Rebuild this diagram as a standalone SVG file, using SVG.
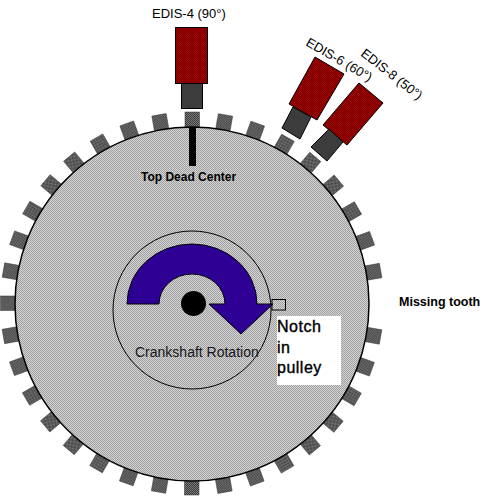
<svg xmlns="http://www.w3.org/2000/svg" width="500" height="497" viewBox="0 0 500 497">
<style>
text{font-family:"Liberation Sans",Arial,sans-serif;fill:#000}
.t{font-size:13px}
.c{font-size:14px;fill:#1a1420}
.b{font-size:12px;font-weight:bold}
.m{font-size:12.500px;font-weight:bold}
.n{font-size:16px;letter-spacing:.5px;stroke:#000;stroke-width:.4}
.tooth{fill:url(#pt);stroke:#333;stroke-width:.5}
.red{fill:url(#pr);stroke:#000;stroke-width:1}
.dark{fill:#3c3c3c;stroke:#000;stroke-width:1}
</style>
<defs>
<pattern id="pd" width="2" height="2" patternUnits="userSpaceOnUse"><rect width="2" height="2" fill="#d4d4d4"/><rect width="1" height="1" fill="#a0a0a0"/><rect x="1" y="1" width="1" height="1" fill="#a0a0a0"/></pattern>
<pattern id="pt" width="2" height="2" patternUnits="userSpaceOnUse"><rect width="2" height="2" fill="#787878"/><rect width="1" height="1" fill="#3e3e3e"/><rect x="1" y="1" width="1" height="1" fill="#3e3e3e"/></pattern>
<pattern id="pr" width="2" height="2" patternUnits="userSpaceOnUse"><rect width="2" height="2" fill="#a40000"/><rect width="1" height="1" fill="#740000"/><rect x="1" y="1" width="1" height="1" fill="#740000"/></pattern>
<pattern id="pb" width="2" height="2" patternUnits="userSpaceOnUse"><rect width="2" height="2" fill="#340090"/><rect width="1" height="1" fill="#1c00a0"/></pattern>
</defs>
<rect width="500" height="497" fill="#fff"/>
<g id="teeth">
<rect id="t0" class="tooth" x="185" y="112" width="14.500" height="15"/>
<use href="#t0" transform="rotate(10 192 303.500)"/><use href="#t0" transform="rotate(20 192 303.500)"/><use href="#t0" transform="rotate(30 192 303.500)"/><use href="#t0" transform="rotate(40 192 303.500)"/><use href="#t0" transform="rotate(50 192 303.500)"/><use href="#t0" transform="rotate(60 192 303.500)"/><use href="#t0" transform="rotate(70 192 303.500)"/><use href="#t0" transform="rotate(80 192 303.500)"/><use href="#t0" transform="rotate(100 192 303.500)"/><use href="#t0" transform="rotate(110 192 303.500)"/><use href="#t0" transform="rotate(120 192 303.500)"/><use href="#t0" transform="rotate(130 192 303.500)"/><use href="#t0" transform="rotate(140 192 303.500)"/><use href="#t0" transform="rotate(150 192 303.500)"/><use href="#t0" transform="rotate(160 192 303.500)"/><use href="#t0" transform="rotate(170 192 303.500)"/><use href="#t0" transform="rotate(180 192 303.500)"/><use href="#t0" transform="rotate(190 192 303.500)"/><use href="#t0" transform="rotate(200 192 303.500)"/><use href="#t0" transform="rotate(210 192 303.500)"/><use href="#t0" transform="rotate(220 192 303.500)"/><use href="#t0" transform="rotate(230 192 303.500)"/><use href="#t0" transform="rotate(240 192 303.500)"/><use href="#t0" transform="rotate(250 192 303.500)"/><use href="#t0" transform="rotate(260 192 303.500)"/><use href="#t0" transform="rotate(270 192 303.500)"/><use href="#t0" transform="rotate(280 192 303.500)"/><use href="#t0" transform="rotate(290 192 303.500)"/><use href="#t0" transform="rotate(300 192 303.500)"/><use href="#t0" transform="rotate(310 192 303.500)"/><use href="#t0" transform="rotate(320 192 303.500)"/><use href="#t0" transform="rotate(330 192 303.500)"/><use href="#t0" transform="rotate(340 192 303.500)"/><use href="#t0" transform="rotate(350 192 303.500)"/>
</g>
<g id="pulley"><circle cx="192" cy="304" r="177" fill="url(#pd)" stroke="#000" stroke-width="1.5"/></g>
<g id="tdc"><rect x="189" y="127" width="7" height="39" fill="#000"/><text class="b" x="141" y="181">Top Dead Center</text></g>
<g id="edis4"><rect class="red" x="175.500" y="27.500" width="32" height="56"/><rect class="dark" x="181.500" y="83.500" width="21" height="25"/><text class="t" x="152" y="18">EDIS-4 (90°)</text></g>
<g id="edis6"><polygon class="red" points="315,57 344,74 317,120 289,104"/><polygon class="dark" points="293,107 311,117 300,139 282,128"/><text class="t" transform="translate(305 45) rotate(30)">EDIS-6 (60°)</text></g>
<g id="edis8"><polygon class="red" points="359,83 383,103 347,145 323,125"/><polygon class="dark" points="329,129 343,142 327,161 311,147"/><text class="t" transform="translate(360 55) rotate(38)">EDIS-8 (50°)</text></g>
<g id="crank">
<circle cx="192" cy="310" r="79" fill="none" stroke="#000" stroke-width="1"/>
<path d="M127 304A65 60 0 0 1 257 304H273L241 334L209 304H225A33 30 0 0 0 159 304Z" fill="url(#pb)" stroke="#000" stroke-width="1"/>
<circle cx="193.500" cy="303.500" r="12.500" fill="#000"/>
<text class="c" x="135" y="357">Crankshaft Rotation</text>
</g>
<g id="notch"><rect x="272" y="299.500" width="13.500" height="10.500" fill="none" stroke="#000" stroke-width="1"/></g>
<g id="notch-label"><rect x="277" y="316" width="64" height="69" fill="#fff"/><text class="n" x="277" y="332">Notch</text><text class="n" x="277" y="353">in</text><text class="n" x="277" y="373">pulley</text></g>
<g id="missing"><text class="m" x="399" y="306">Missing tooth</text></g>
</svg>
